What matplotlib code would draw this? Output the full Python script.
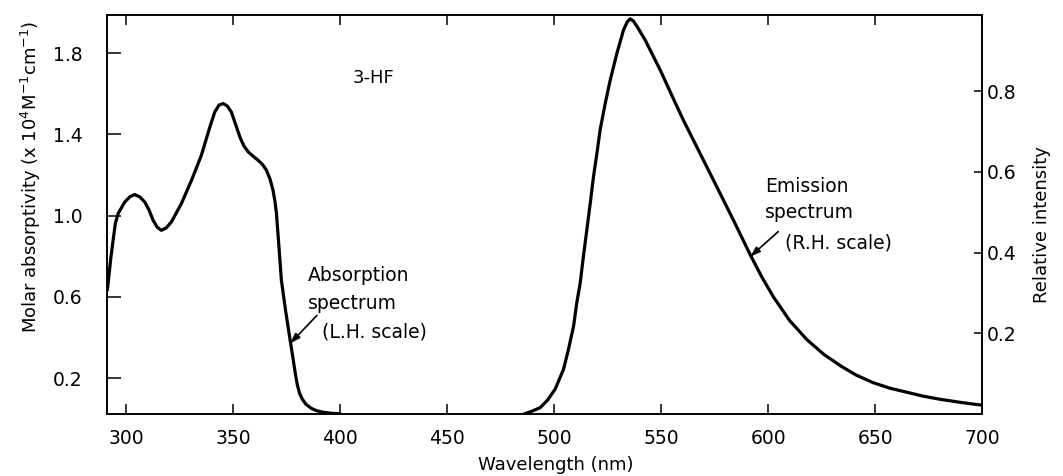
import matplotlib
matplotlib.use("Agg")
import matplotlib.pyplot as plt

# absorption spectrum of 3-HF (left scale, x 10^4 M^-1 cm^-1)
abs_nm = [291.3, 293.0, 295.0, 296.3, 299.4, 302.0, 304.1, 306.5, 308.8, 310.8,
          312.7, 314.6, 316.5, 318.8, 321.2, 325.9, 330.6, 335.2, 339.2, 341.5,
          343.5, 345.4, 347.3, 349.2, 351.2, 353.2, 355.0, 357.1, 359.5, 361.7,
          363.8, 365.6, 367.3, 368.7, 369.6, 370.3, 371.5, 372.6, 374.6, 376.7,
          378.0, 379.0, 380.0, 381.0, 382.3, 384.0, 386.5, 389.0, 392.2, 396.0,
          400.0]
abs_val = [0.633, 0.80, 0.96, 1.01, 1.067, 1.095, 1.104, 1.092, 1.067, 1.027,
           0.977, 0.943, 0.928, 0.940, 0.969, 1.06, 1.174, 1.297, 1.437, 1.511,
           1.545, 1.552, 1.540, 1.511, 1.450, 1.388, 1.345, 1.314, 1.292, 1.273,
           1.252, 1.224, 1.180, 1.125, 1.070, 1.010, 0.840, 0.682, 0.530, 0.386,
           0.300, 0.230, 0.170, 0.128, 0.098, 0.072, 0.052, 0.040, 0.032, 0.027,
           0.025]

# emission spectrum (right scale, relative intensity)
em_nm = [485.8, 489.5, 493.5, 497.0, 500.5, 504.4, 506.7, 509.1, 510.6, 512.2,
         513.7, 515.3, 516.9, 518.4, 520.0, 521.5, 523.9, 526.2, 529.3, 532.4,
         534.2, 535.5, 537.0, 539.0, 542.6, 549.6, 556.0, 560.4, 567.4, 576.1,
         584.0, 591.6, 597.0, 602.5, 610.0, 618.0, 626.0, 634.0, 641.0, 649.0,
         657.0, 665.0, 672.0, 680.0, 690.0, 700.0]
em_val = [0.0, 0.007, 0.016, 0.035, 0.062, 0.111, 0.160, 0.218, 0.276, 0.325,
          0.391, 0.457, 0.523, 0.588, 0.646, 0.704, 0.770, 0.827, 0.893, 0.951,
          0.972, 0.979, 0.974, 0.958, 0.926, 0.852, 0.778, 0.728, 0.654, 0.562,
          0.478, 0.395, 0.340, 0.290, 0.232, 0.185, 0.148, 0.119, 0.097, 0.078,
          0.064, 0.054, 0.045, 0.037, 0.029, 0.022]

x_ticks = [300, 350, 400, 450, 500, 550, 600, 650, 700]
left_ticks = [0.2, 0.6, 1.0, 1.4, 1.8]
right_ticks = [0.2, 0.4, 0.6, 0.8]

plt.rcParams['font.family'] = ['DejaVu Sans']

fig = plt.figure(figsize=(10.63, 4.76), dpi=100)
ax = fig.add_axes([0.101, 0.130, 0.823, 0.838])
ax2 = ax.twinx()

ax.plot(abs_nm, abs_val, color='black', linewidth=2.3,
        solid_capstyle='round', solid_joinstyle='round')
ax2.plot(em_nm, em_val, color='black', linewidth=2.3,
         solid_capstyle='round', solid_joinstyle='round')

ax.set_xlim(291.3, 700)
ax.set_ylim(0.023, 1.987)
ax2.set_ylim(0, 0.988)

ax.set_xticks(x_ticks)
ax.set_yticks(left_ticks)
ax.set_yticklabels([f"{v:.1f}" for v in left_ticks])
ax2.set_yticks(right_ticks)
ax2.set_yticklabels([f"{v:.1f}" for v in right_ticks])

ax.tick_params(axis='x', direction='in', length=7, width=1.1, top=True,
               labelsize=13.5, pad=11)
ax.tick_params(axis='y', direction='in', length=10, width=1.1, right=False,
               labelsize=13.5, pad=18)
ax2.tick_params(axis='y', direction='in', length=6, width=1.1,
                labelsize=13.5, pad=3)

for a in (ax, ax2):
    for s in a.spines.values():
        s.set_linewidth(1.2)

ax.set_xlabel("Wavelength (nm)", fontsize=13)
ax.xaxis.set_label_coords(0.513, -0.105)
ax.set_ylabel(r"Molar absorptivity (x 10$^{4}$M$^{-1}$cm$^{-1}$)", fontsize=13)
ax.yaxis.set_label_coords(-0.073, 0.594)
ax2.set_ylabel("Relative intensity", fontsize=13)
ax2.yaxis.set_label_coords(1.058, 0.474)

ax.text(415.5, 1.68, "3-HF", fontsize=13, ha='center', va='center')

# absorption annotation
ax.text(385.1, 0.706, "Absorption", fontsize=13.5, ha='left', va='center')
ax.text(385.1, 0.568, "spectrum", fontsize=13.5, ha='left', va='center')
ax.text(391.6, 0.426, "(L.H. scale)", fontsize=13.5, ha='left', va='center')
ax.annotate("", xy=(376.7, 0.371), xytext=(389.2, 0.509),
            arrowprops=dict(arrowstyle='-|>,head_length=0.6,head_width=0.2',
                            color='black', linewidth=1.2, shrinkA=0, shrinkB=0))

# emission annotation
ax2.text(598.6, 0.563, "Emission", fontsize=13.5, ha='left', va='center')
ax2.text(598.6, 0.499, "spectrum", fontsize=13.5, ha='left', va='center')
ax2.text(607.9, 0.425, "(R.H. scale)", fontsize=13.5, ha='left', va='center')
ax2.annotate("", xy=(591.6, 0.39), xytext=(604.7, 0.452),
             arrowprops=dict(arrowstyle='-|>,head_length=0.6,head_width=0.2',
                             color='black', linewidth=1.2, shrinkA=0, shrinkB=0))

fig.savefig("out.png", dpi=100)
